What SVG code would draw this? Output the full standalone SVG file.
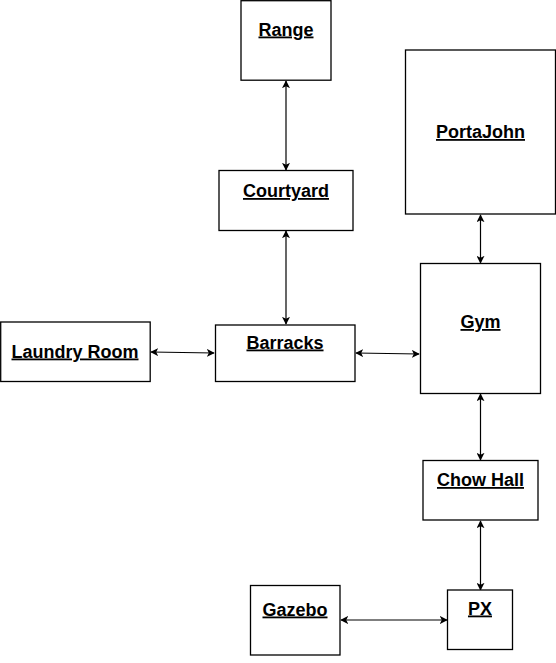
<svg xmlns="http://www.w3.org/2000/svg" width="556" height="663" viewBox="0 0 556 663">
<defs>
<style>
.box{fill:#fff;stroke:#000;stroke-width:1.3}
.lbl{font-family:"Liberation Sans",Arial,sans-serif;font-size:18px;font-weight:bold;text-decoration:underline;fill:#000;text-anchor:middle}
.edge{fill:none;stroke:#000;stroke-width:1.2;marker-start:url(#ah);marker-end:url(#ah)}
</style>
<marker id="ah" viewBox="0 0 10 10" refX="9" refY="5" markerWidth="8" markerHeight="8" markerUnits="userSpaceOnUse" orient="auto-start-reverse">
<path d="M0,0 L10,5 L0,10 L2.5,5 Z" fill="#000"/>
</marker>
</defs>
<rect width="556" height="663" fill="#fff"/>
<g id="connectors">
<line class="edge" x1="286" y1="81" x2="286" y2="170"/>
<line class="edge" x1="286" y1="231" x2="286" y2="324"/>
<line class="edge" x1="480.5" y1="215" x2="480.5" y2="263"/>
<line class="edge" x1="151" y1="352" x2="214" y2="353"/>
<line class="edge" x1="356" y1="353" x2="419" y2="354"/>
<line class="edge" x1="480.5" y1="394" x2="480.5" y2="460"/>
<line class="edge" x1="480.5" y1="521" x2="480.5" y2="590"/>
<line class="edge" x1="341" y1="620" x2="447" y2="620"/>
</g>
<g id="range"><rect class="box" x="241" y="0.7" width="90" height="79.5"/><text class="lbl" x="286" y="35.5">Range</text></g>
<g id="portajohn"><rect class="box" x="405.5" y="50" width="150" height="164"/><text class="lbl" x="480.5" y="138">PortaJohn</text></g>
<g id="courtyard"><rect class="box" x="219" y="170.5" width="134" height="60"/><text class="lbl" x="286" y="197">Courtyard</text></g>
<g id="gym"><rect class="box" x="420.5" y="263.5" width="120" height="130"/><text class="lbl" x="480.5" y="328">Gym</text></g>
<g id="laundry"><rect class="box" x="0.7" y="322" width="149.5" height="59.5"/><text class="lbl" x="75" y="357.5">Laundry Room</text></g>
<g id="barracks"><rect class="box" x="215.5" y="325" width="139.5" height="56.5"/><text class="lbl" x="285" y="348.5">Barracks</text></g>
<g id="chowhall"><rect class="box" x="423" y="460.5" width="115" height="59.5"/><text class="lbl" x="480.5" y="486">Chow Hall</text></g>
<g id="gazebo"><rect class="box" x="250.5" y="585.5" width="89.5" height="69.5"/><text class="lbl" x="295" y="615.5">Gazebo</text></g>
<g id="px"><rect class="box" x="447.5" y="590" width="65" height="59.5"/><text class="lbl" x="480" y="614.5">PX</text></g>
</svg>
